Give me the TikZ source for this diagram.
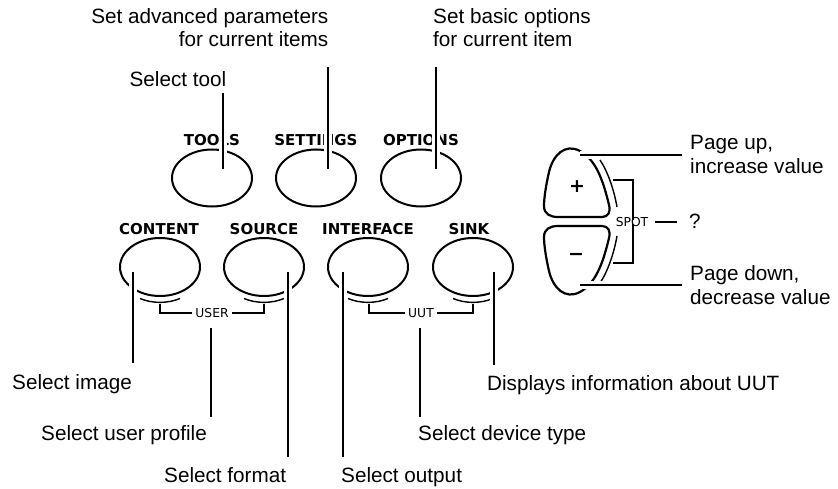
\documentclass[tikz,border=0pt]{standalone}
\usepackage{fontspec}
\setmainfont{Liberation Sans}
\newfontfamily\keyfont{DejaVu Sans}
\usetikzlibrary{shapes.geometric}
\begin{document}
\begin{tikzpicture}[x=1pt,y=-1pt,
  desc/.style={inner sep=0pt, font=\fontsize{20.7}{24}\selectfont},
  key/.style={inner sep=0pt, font=\keyfont\bfseries\fontsize{15}{16}\selectfont},
  tag/.style={inner sep=0pt, font=\keyfont\fontsize{12.3}{13}\selectfont},
  sign/.style={inner sep=0pt, font=\keyfont\bfseries\fontsize{19}{20}\selectfont},
  btn/.style={ellipse, draw, line width=2pt, minimum width=80pt, minimum height=57pt, inner sep=0pt},
  lead/.style={line width=2pt, preaction={draw=white, line width=8pt}},
  thinline/.style={line width=1.4pt},
  padline/.style={line width=2.2pt, line join=round}]
\useasboundingbox (0,0) rectangle (838,489);

% ---------- top row buttons
\node[btn] (tools) at (212,178) {};
\node[btn] (settings) at (316,178) {};
\node[btn] (options) at (421,178) {};
\node[key, anchor=base] (toolsL) at (212,145.5) {TOOLS};
\node[key, anchor=base] (settingsL) at (316,145.5) {SETTINGS};
\node[key, anchor=base] (optionsL) at (421,145.5) {OPTIONS};

% ---------- bottom row buttons
\node[btn, minimum height=58pt] (content) at (160,267) {};
\node[btn, minimum height=58pt] (source) at (264,267) {};
\node[btn, minimum height=58pt] (interface) at (368,267) {};
\node[btn, minimum height=58pt] (sink) at (473,267) {};
\node[key, anchor=base] (contentL) at (159,235) {CONTENT};
\node[key, anchor=base] (sourceL) at (264,235) {SOURCE};
\node[key, anchor=base] (interfaceL) at (368,235) {INTERFACE};
\node[key, anchor=base] (sinkL) at (469,235) {SINK};

% shadow arcs and group brackets
\foreach \cx in {160,264,368,473}{
  \draw[thinline] (\cx+20,298.5) arc[start angle=60, end angle=120, x radius=40, y radius=29];
}
\node[tag] (user) at (212,313) {USER};
\node[tag] (uut) at (421,313) {UUT};
\coordinate (ua) at (160,303.5); \coordinate (ub) at (264,303.5);
\coordinate (uc) at (369,303.5); \coordinate (ud) at (473,303.5);
\draw[thinline] (ua) -- (160,313) -- ([xshift=-3pt]user.west);
\draw[thinline] (ub) -- (264,313) -- ([xshift=3pt]user.east);
\draw[thinline] (uc) -- (369,313) -- ([xshift=-3pt]uut.west);
\draw[thinline] (ud) -- (473,313) -- ([xshift=3pt]uut.east);

% ---------- SPOT pad
\draw[padline] (609,205) .. controls (603,180) and (596,160) .. (580,151)
  .. controls (565,143) and (553,155) .. (549,172)
  .. controls (546,185) and (544,198) .. (544,206)
  .. controls (544,214) and (550,217) .. (558,217)
  -- (602,217) .. controls (608,217) and (611,212) .. cycle;
\draw[padline] (609,238) .. controls (603,263) and (596,283) .. (580,292)
  .. controls (565,300) and (553,288) .. (549,271)
  .. controls (546,258) and (544,245) .. (544,237)
  .. controls (544,229) and (550,226) .. (558,226)
  -- (602,226) .. controls (608,226) and (611,231) .. cycle;
\draw[thinline] (600,160) .. controls (608,172) and (614,190) .. (617,207);
\draw[thinline] (600,283) .. controls (608,271) and (614,253) .. (617,236);
\node[sign] (plus) at (577,187) {+};
\node[sign] (minus) at (576,257) {−};
\node[tag] (spot) at (632,222) {SPOT};
\draw[thinline] (613,180) -- (633,180) -- ([yshift=-3pt]spot.north -| 633,0);
\draw[thinline] (613,263) -- (633,263) -- ([yshift=3pt]spot.south -| 633,0);
\node[desc, anchor=base west] (q) at (689,229) {?};
\coordinate (qa) at (655,222); \coordinate (qb) at (677,222);
\draw[padline] (qa) -- (qb);

% ---------- descriptive texts
\node[desc, anchor=base east] (adv1) at (328.5,23.5) {Set advanced parameters};
\node[desc, anchor=base east] (adv2) at (328.5,46.5) {for current items};
\node[desc, anchor=base west] (bas1) at (433,23.5) {Set basic options};
\node[desc, anchor=base west] (bas2) at (433,46.5) {for current item};
\node[desc, anchor=base] (seltool) at (178,87) {Select tool};
\node[desc, anchor=base west] (pu1) at (690,150) {Page up,};
\node[desc, anchor=base west] (pu2) at (690,174) {increase value};
\node[desc, anchor=base west] (pd1) at (690,280) {Page down,};
\node[desc, anchor=base west] (pd2) at (690,304) {decrease value};
\node[desc, anchor=base west] (selimg) at (12,389) {Select image};
\node[desc, anchor=base west] (selprof) at (41,440) {Select user profile};
\node[desc, anchor=base west] (selfmt) at (164,482) {Select format};
\node[desc, anchor=base west] (selout) at (341,482) {Select output};
\node[desc, anchor=base west] (seldev) at (418,440) {Select device type};
\node[desc, anchor=base west] (disp) at (487,390) {Displays information about UUT};

% ---------- leader lines
\coordinate (t1) at (223,93);  \coordinate (t2) at (223,169);
\coordinate (s1) at (328,67);  \coordinate (s2) at (328,169);
\coordinate (o1) at (436,67);  \coordinate (o2) at (436,169);
\draw[lead] (t1) -- (t2);
\draw[lead] (s1) -- (s2);
\draw[lead] (o1) -- (o2);
\coordinate (c1) at (133,272); \coordinate (c2) at (133,363);
\coordinate (r1) at (288,272); \coordinate (r2) at (288,457);
\coordinate (i1) at (343,272); \coordinate (i2) at (343,457);
\coordinate (k1) at (494,272); \coordinate (k2) at (494,365);
\coordinate (p1) at (211,328); \coordinate (p2) at (211,417);
\coordinate (d1) at (420,328); \coordinate (d2) at (420,417);
\draw[lead] (c1) -- (c2);
\draw[lead] (r1) -- (r2);
\draw[lead] (i1) -- (i2);
\draw[lead] (k1) -- (k2);
\draw[lead] (p1) -- (p2);
\draw[lead] (d1) -- (d2);
\coordinate (up1) at (580,155.5); \coordinate (up2) at (682,155.5);
\coordinate (dn1) at (580,285); \coordinate (dn2) at (682,285);
\draw[lead] (up1) -- (up2);
\draw[lead] (dn1) -- (dn2);
\end{tikzpicture}
\end{document}
